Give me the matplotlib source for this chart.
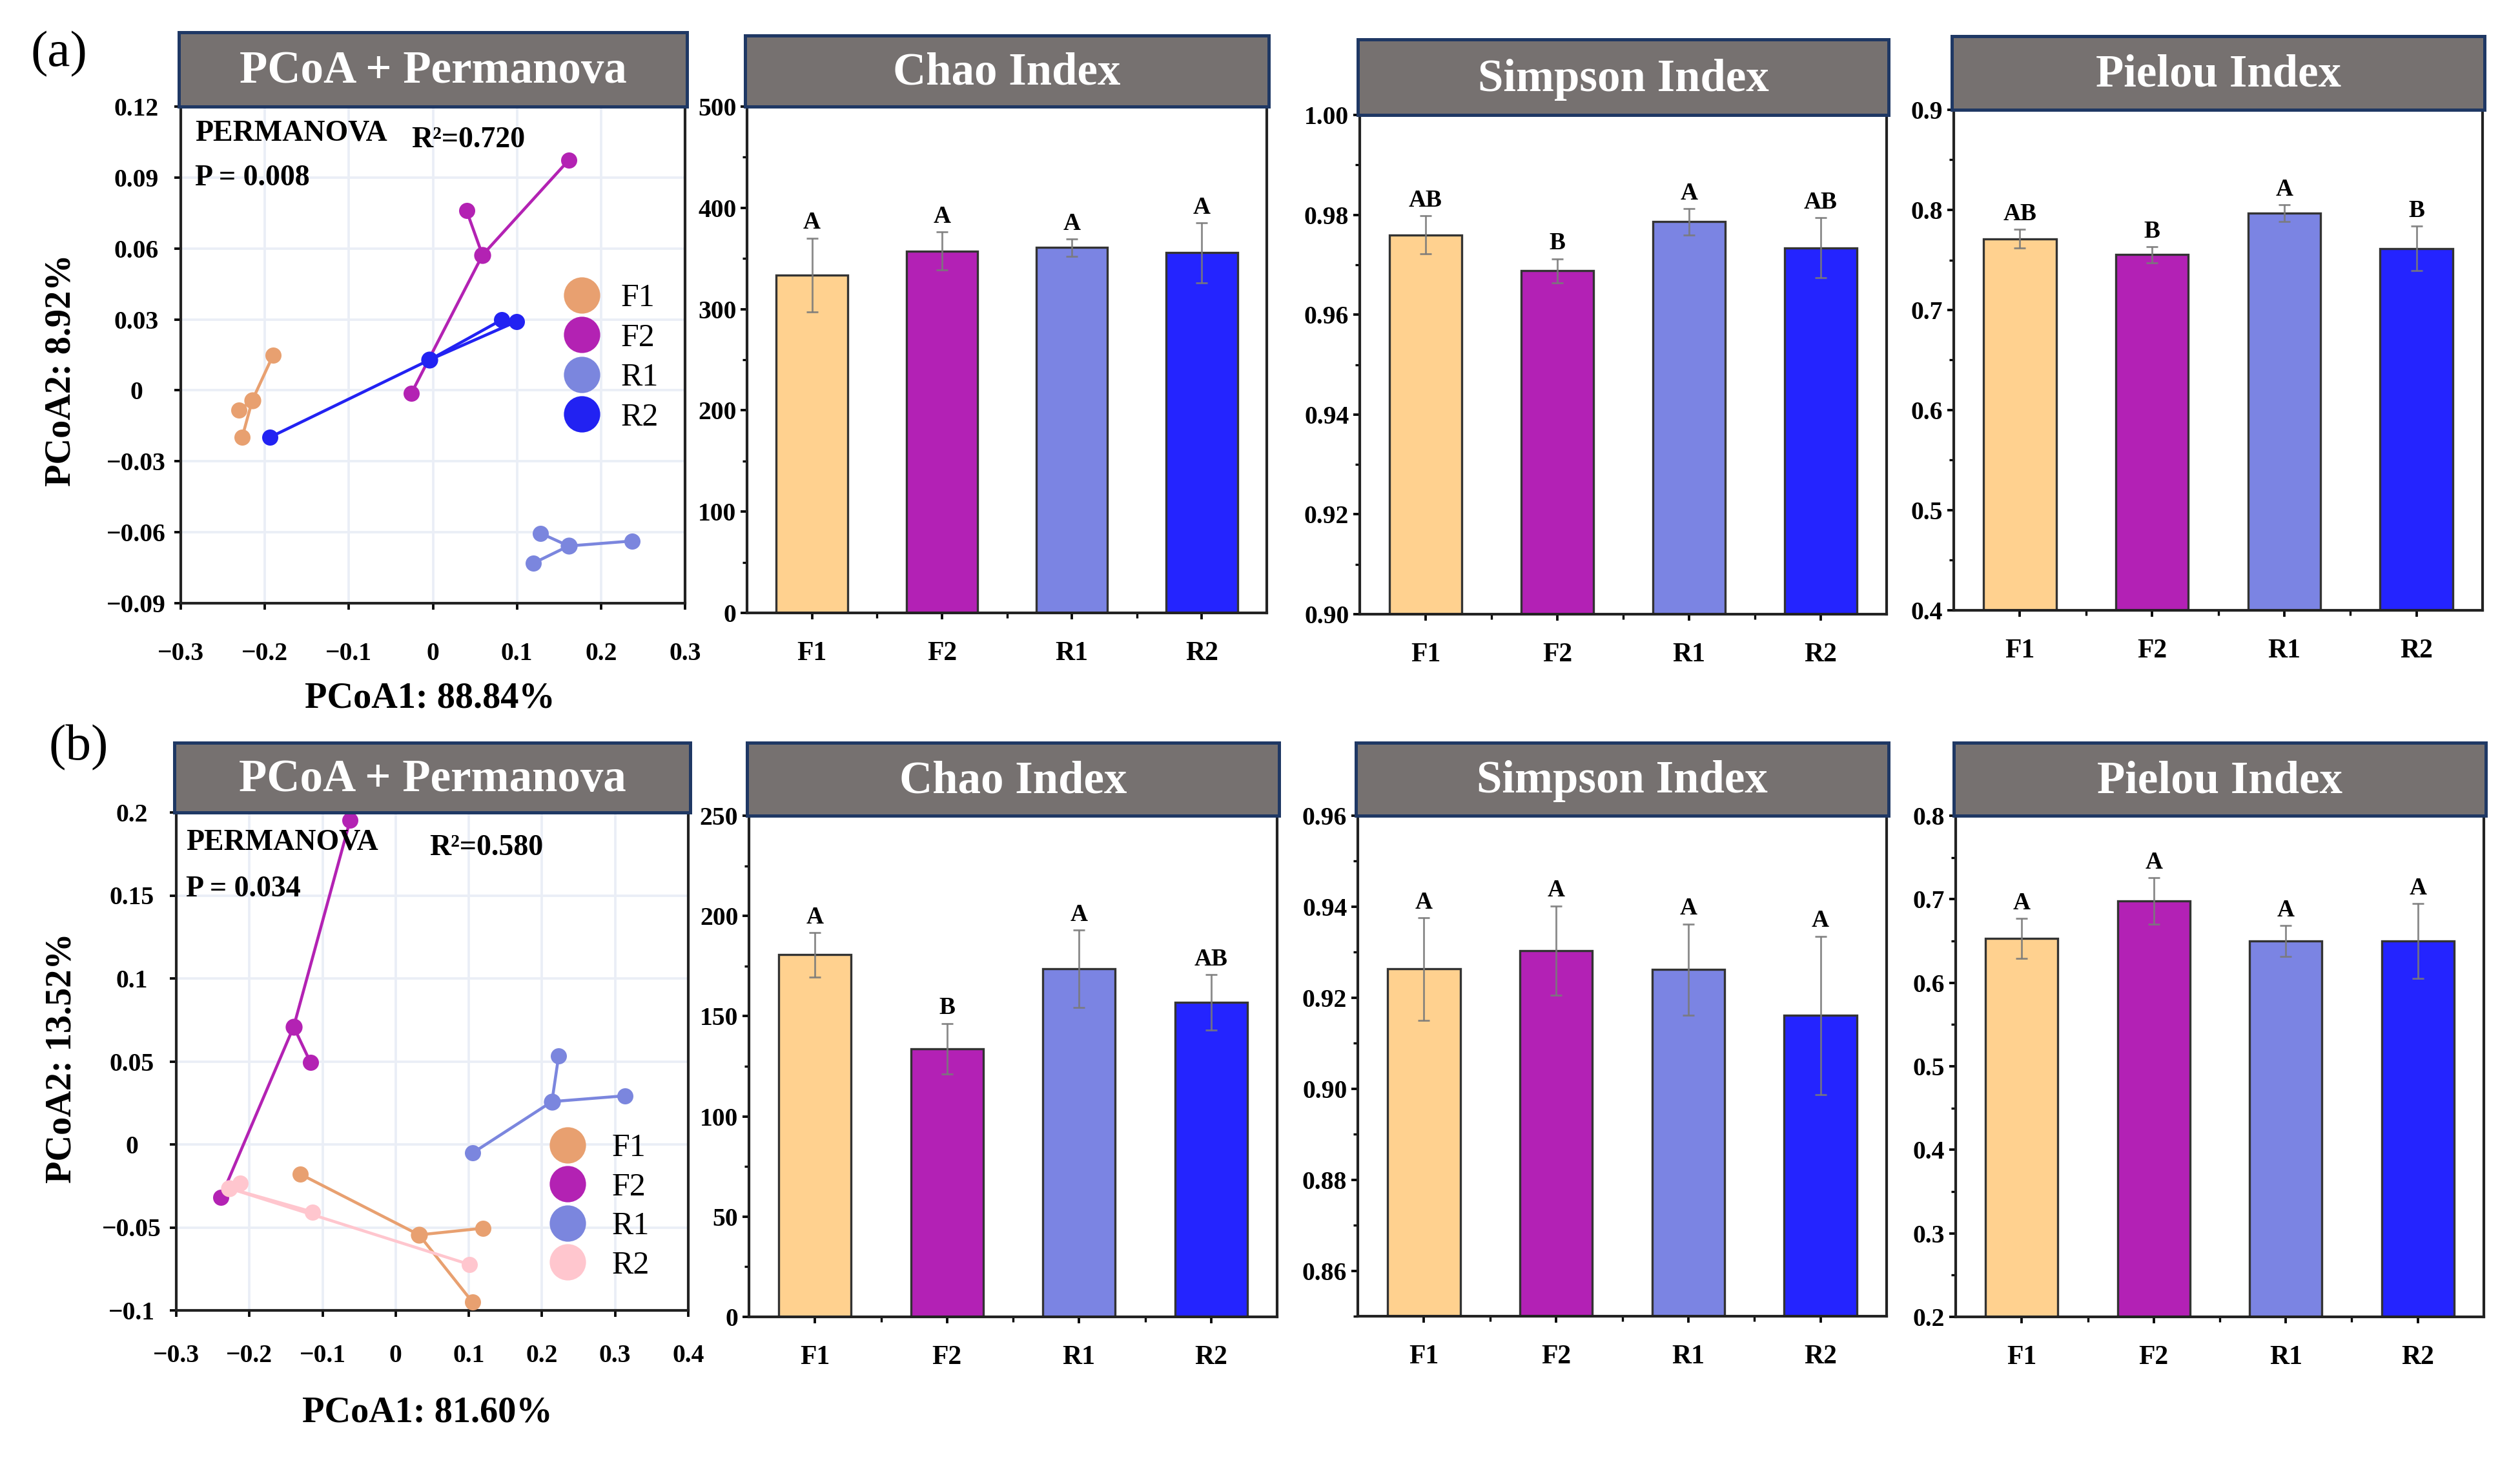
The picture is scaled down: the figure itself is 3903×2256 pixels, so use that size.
import matplotlib
matplotlib.use('Agg')
import matplotlib.pyplot as plt
from matplotlib.lines import Line2D
from matplotlib.ticker import FixedLocator, MultipleLocator

plt.rcParams['font.family'] = ['Liberation Serif', 'DejaVu Serif']
plt.rcParams['axes.unicode_minus'] = True

W, H = 3903, 2256
DPI = 300

groups = ['F1', 'F2', 'R1', 'R2']

# ---------------- PCoA data (a) ----------------
a_samp_x = {'F1': [-0.190, -0.231, -0.227], 'F2': [0.1615, 0.040, -0.0256],
            'R1': [0.128, 0.237, 0.1194], 'R2': [-0.1943, 0.0822, 0.0995]}
a_samp_y = {'F1': [0.015, -0.0084, -0.0199], 'F2': [0.0973, 0.076, -0.0012],
            'R1': [-0.0604, -0.0637, -0.0731], 'R2': [-0.0199, 0.0299, 0.0291]}
a_cent_x = {'F1': -0.215, 'F2': 0.059, 'R1': 0.1615, 'R2': -0.004}
a_cent_y = {'F1': -0.0043, 'F2': 0.0572, 'R1': -0.0658, 'R2': 0.0129}
a_colors = {'F1': '#E8A070', 'F2': '#B322B3', 'R1': '#7B86DE', 'R2': '#2222F2'}
a_xticks = [-0.3, -0.2, -0.1, 0, 0.1, 0.2, 0.3]
a_xticklabels = ['\u22120.3', '\u22120.2', '\u22120.1', '0', '0.1', '0.2', '0.3']
a_yticks = [-0.09, -0.06, -0.03, 0, 0.03, 0.06, 0.09, 0.12]
a_yticklabels = ['\u22120.09', '\u22120.06', '\u22120.03', '0', '0.03', '0.06', '0.09', '0.12']
a_xlabel = 'PCoA1: 88.84%'
a_ylabel = 'PCoA2: 8.92%'
a_r2 = 'R\u00b2=0.720'
a_p = 'P = 0.008'

# ---------------- PCoA data (b) ----------------
b_samp_x = {'F1': [-0.1309, 0.119, 0.105], 'F2': [-0.0623, -0.1167, -0.2389],
            'R1': [0.2228, 0.3136, 0.105], 'R2': [-0.2123, -0.1136, 0.1006]}
b_samp_y = {'F1': [-0.0178, -0.0505, -0.095], 'F2': [0.1953, 0.0496, -0.0318],
            'R1': [0.0534, 0.0293, -0.0052], 'R2': [-0.0235, -0.0407, -0.0723]}
b_cent_x = {'F1': 0.032, 'F2': -0.1395, 'R1': 0.2136, 'R2': -0.2278}
b_cent_y = {'F1': -0.0545, 'F2': 0.0709, 'R1': 0.0258, 'R2': -0.0264}
b_colors = {'F1': '#E8A070', 'F2': '#B322B3', 'R1': '#7B86DE', 'R2': '#FFC6CE'}
b_xticks = [-0.3, -0.2, -0.1, 0, 0.1, 0.2, 0.3, 0.4]
b_xticklabels = ['\u22120.3', '\u22120.2', '\u22120.1', '0', '0.1', '0.2', '0.3', '0.4']
b_yticks = [-0.1, -0.05, 0, 0.05, 0.1, 0.15, 0.2]
b_yticklabels = ['\u22120.1', '\u22120.05', '0', '0.05', '0.1', '0.15', '0.2']
b_xlabel = 'PCoA1: 81.60%'
b_ylabel = 'PCoA2: 13.52%'
b_r2 = 'R\u00b2=0.580'
b_p = 'P = 0.034'

# ---------------- Bar data ----------------
bar_colors = ['#FFD18F', '#B321B5', '#7B84E3', '#2424FF']

a_chao = [333.7, 357.4, 360.7, 355.7]
a_chao_err = [36.5, 19.0, 8.5, 29.5]
a_chao_let = ['A', 'A', 'A', 'A']
a_simp = [0.9760, 0.9688, 0.9786, 0.9734]
a_simp_err = [0.0038, 0.0024, 0.0026, 0.0060]
a_simp_let = ['AB', 'B', 'A', 'AB']
a_piel = [0.7711, 0.7552, 0.7967, 0.7615]
a_piel_err = [0.0093, 0.0080, 0.0084, 0.0222]
a_piel_let = ['AB', 'B', 'A', 'B']

b_chao = [180.6, 133.8, 173.7, 156.9]
b_chao_err = [11.1, 12.6, 19.3, 13.8]
b_chao_let = ['A', 'B', 'A', 'AB']
b_simp = [0.9263, 0.9304, 0.9262, 0.9161]
b_simp_err = [0.0113, 0.0098, 0.0100, 0.0174]
b_simp_let = ['A', 'A', 'A', 'A']
b_piel = [0.653, 0.6978, 0.650, 0.650]
b_piel_err = [0.0237, 0.028, 0.0186, 0.0448]
b_piel_let = ['A', 'A', 'A', 'A']

chao_a_ticks = [0, 100, 200, 300, 400, 500]
simp_a_ticks = [0.90, 0.92, 0.94, 0.96, 0.98, 1.00]
simp_a_labels = ['0.90', '0.92', '0.94', '0.96', '0.98', '1.00']
piel_a_ticks = [0.4, 0.5, 0.6, 0.7, 0.8, 0.9]
chao_b_ticks = [0, 50, 100, 150, 200, 250]
simp_b_ticks = [0.86, 0.88, 0.90, 0.92, 0.94, 0.96]
simp_b_labels = ['0.86', '0.88', '0.90', '0.92', '0.94', '0.96']
piel_b_ticks = [0.2, 0.3, 0.4, 0.5, 0.6, 0.7, 0.8]

TITLE_FACE = '#767170'
TITLE_EDGE = '#1F3864'

fig = plt.figure(figsize=(W / DPI, H / DPI), dpi=DPI)


def rect(l, r, t, b):
    return [l / W, 1 - b / H, (r - l) / W, (b - t) / H]


def make_panel(l, r, t, b, ttop, title):
    ax = fig.add_axes(rect(l, r, t, b))
    tax = fig.add_axes(rect(l - 3, r + 3, ttop, t))
    tax.set_facecolor(TITLE_FACE)
    tax.set_xticks([])
    tax.set_yticks([])
    for s in tax.spines.values():
        s.set_color(TITLE_EDGE)
        s.set_linewidth(1.2)
    tax.text(0.5, 0.47, title, transform=tax.transAxes, ha='center', va='center',
             color='white', fontsize=17, fontweight='bold')
    for s in ax.spines.values():
        s.set_linewidth(1.0)
        s.set_color('#222222')
    return ax


def pcoa_panel(ax, sx, sy, cx, cy, colors, xticks, xtl, yticks, ytl, xlim, ylim,
               xlabel, ylabel, r2, p, txt_pos, leg_anchor, leg_pad, leg_space,
               xl_pos, yl_pos, xpad):
    ax.set_xlim(xlim)
    ax.set_ylim(ylim)
    ax.xaxis.set_major_locator(FixedLocator(xticks))
    ax.set_xticklabels(xtl)
    ax.yaxis.set_major_locator(FixedLocator(yticks))
    ax.set_yticklabels(ytl)
    ax.grid(True, color='#EAEEF6', linewidth=0.9, zorder=0)
    ax.set_axisbelow(True)
    ax.tick_params(axis='both', direction='out', length=2.5, width=0.9,
                   labelsize=9.5, top=False, right=False)
    ax.tick_params(axis='x', pad=xpad)
    ax.tick_params(axis='y', pad=14)
    for lab in ax.get_xticklabels() + ax.get_yticklabels():
        lab.set_fontweight('bold')
    for lab in ax.get_yticklabels():
        lab.set_horizontalalignment('center')
    for g in groups:
        c = colors[g]
        for x, y in zip(sx[g], sy[g]):
            ax.plot([cx[g], x], [cy[g], y], color=c, lw=1.1, zorder=2)
        ax.plot(sx[g], sy[g], 'o', color=c, ms=6, mec='none', zorder=3)
        ax.plot([cx[g]], [cy[g]], 'o', color=c, ms=6.3, mec='none', zorder=3)
    tp = txt_pos
    ax.text(tp[0], tp[1], 'PERMANOVA', transform=ax.transAxes, fontsize=11,
            fontweight='bold', ha='left', va='baseline')
    ax.text(tp[2], tp[3], r2, transform=ax.transAxes, fontsize=11,
            fontweight='bold', ha='left', va='baseline')
    ax.text(tp[0], tp[4], p, transform=ax.transAxes, fontsize=11,
            fontweight='bold', ha='left', va='baseline')
    handles = [Line2D([], [], marker='o', ls='none', ms=13.5, color=colors[g], mec='none')
               for g in groups]
    ax.legend(handles, groups, loc='center left', bbox_to_anchor=leg_anchor,
              frameon=False, fontsize=12, handlelength=1.2,
              handletextpad=leg_pad, labelspacing=leg_space, borderpad=0,
              borderaxespad=0)
    ax.text(xl_pos[0], xl_pos[1], xlabel, transform=ax.transAxes, fontsize=13.5,
            fontweight='bold', ha='center', va='center')
    ax.text(yl_pos[0], yl_pos[1], ylabel, transform=ax.transAxes, fontsize=13.5,
            fontweight='bold', ha='center', va='center', rotation=90)


def bar_panel(ax, means, errs, letters, ylim, yticks, ytl, minor):
    xs = list(range(len(groups)))
    ax.bar(xs, means, width=0.55, color=bar_colors, edgecolor='#333333',
           linewidth=0.8, zorder=2)
    ax.errorbar(xs, means, yerr=errs, fmt='none', ecolor='#7a7a7a', elinewidth=0.7,
                capsize=2.2, capthick=0.7, zorder=3, alpha=0.85)
    for x, m, e, L in zip(xs, means, errs, letters):
        ax.annotate(L, (x, m + e), xytext=(0, 1.5), textcoords='offset points',
                    ha='center', va='bottom', fontsize=9, fontweight='bold')
    ax.set_xlim(-0.5, len(groups) - 0.5)
    ax.set_ylim(ylim)
    ax.set_xticks(xs)
    ax.set_xticklabels(groups)
    ax.xaxis.set_minor_locator(FixedLocator([0.5, 1.5, 2.5]))
    ax.yaxis.set_major_locator(FixedLocator(yticks))
    ax.set_yticklabels(ytl)
    ax.yaxis.set_minor_locator(MultipleLocator(minor))
    ax.tick_params(axis='both', which='major', direction='out', length=2.5,
                   width=0.9, top=False, right=False)
    ax.tick_params(axis='both', which='minor', direction='out', length=1.8,
                   width=0.8, top=False, right=False)
    ax.tick_params(axis='x', which='major', labelsize=10, pad=8)
    ax.tick_params(axis='y', which='major', labelsize=9.5, pad=1.5)
    for lab in ax.get_xticklabels() + ax.get_yticklabels():
        lab.set_fontweight('bold')


# ---------------- Row (a) ----------------
ax = make_panel(280, 1061, 165, 934, 50, 'PCoA + Permanova')
pcoa_panel(ax, a_samp_x, a_samp_y, a_cent_x, a_cent_y, a_colors,
           a_xticks, a_xticklabels, a_yticks, a_yticklabels,
           (-0.3, 0.3), (-0.09, 0.12), a_xlabel, a_ylabel, a_r2, a_p,
           (0.028, 0.932, 0.457, 0.918, 0.842), (0.757, 0.494), 0.6, 0.3,
           (0.494, -0.192), (-0.237, 0.469), 12)

ax = make_panel(1157, 1962, 165, 949, 55, 'Chao Index')
bar_panel(ax, a_chao, a_chao_err, a_chao_let, (0, 500), chao_a_ticks,
          [str(v) for v in chao_a_ticks], 50)

ax = make_panel(2106, 2922, 178, 951, 61, 'Simpson Index')
bar_panel(ax, a_simp, a_simp_err, a_simp_let, (0.90, 1.00), simp_a_ticks,
          simp_a_labels, 0.01)

ax = make_panel(3026, 3845, 170, 945, 56, 'Pielou Index')
bar_panel(ax, a_piel, a_piel_err, a_piel_let, (0.4, 0.9), piel_a_ticks,
          [f'{v:.1f}' for v in piel_a_ticks], 0.05)

# ---------------- Row (b) ----------------
ax = make_panel(273, 1066, 1258, 2029, 1150, 'PCoA + Permanova')
pcoa_panel(ax, b_samp_x, b_samp_y, b_cent_x, b_cent_y, b_colors,
           b_xticks, b_xticklabels, b_yticks, b_yticklabels,
           (-0.3, 0.4), (-0.1, 0.2), b_xlabel, b_ylabel, b_r2, b_p,
           (0.019, 0.926, 0.494, 0.914, 0.831), (0.726, 0.208), 0.78, 0.28,
           (0.49, -0.205), (-0.224, 0.507), 10)

ax = make_panel(1160, 1978, 1263, 2039, 1150, 'Chao Index')
bar_panel(ax, b_chao, b_chao_err, b_chao_let, (0, 250), chao_b_ticks,
          [str(v) for v in chao_b_ticks], 25)

ax = make_panel(2103, 2922, 1263, 2038, 1150, 'Simpson Index')
bar_panel(ax, b_simp, b_simp_err, b_simp_let, (0.85, 0.96), simp_b_ticks,
          simp_b_labels, 0.01)

ax = make_panel(3029, 3847, 1263, 2039, 1150, 'Pielou Index')
bar_panel(ax, b_piel, b_piel_err, b_piel_let, (0.2, 0.8), piel_b_ticks,
          [f'{v:.1f}' for v in piel_b_ticks], 0.05)

fig.text(91 / W, 1 - 84 / H, '(a)', fontsize=19, ha='center', va='center')
fig.text(122 / W, 1 - 1158 / H, '(b)', fontsize=19, ha='center', va='center')

fig.savefig('out.png', dpi=DPI)
